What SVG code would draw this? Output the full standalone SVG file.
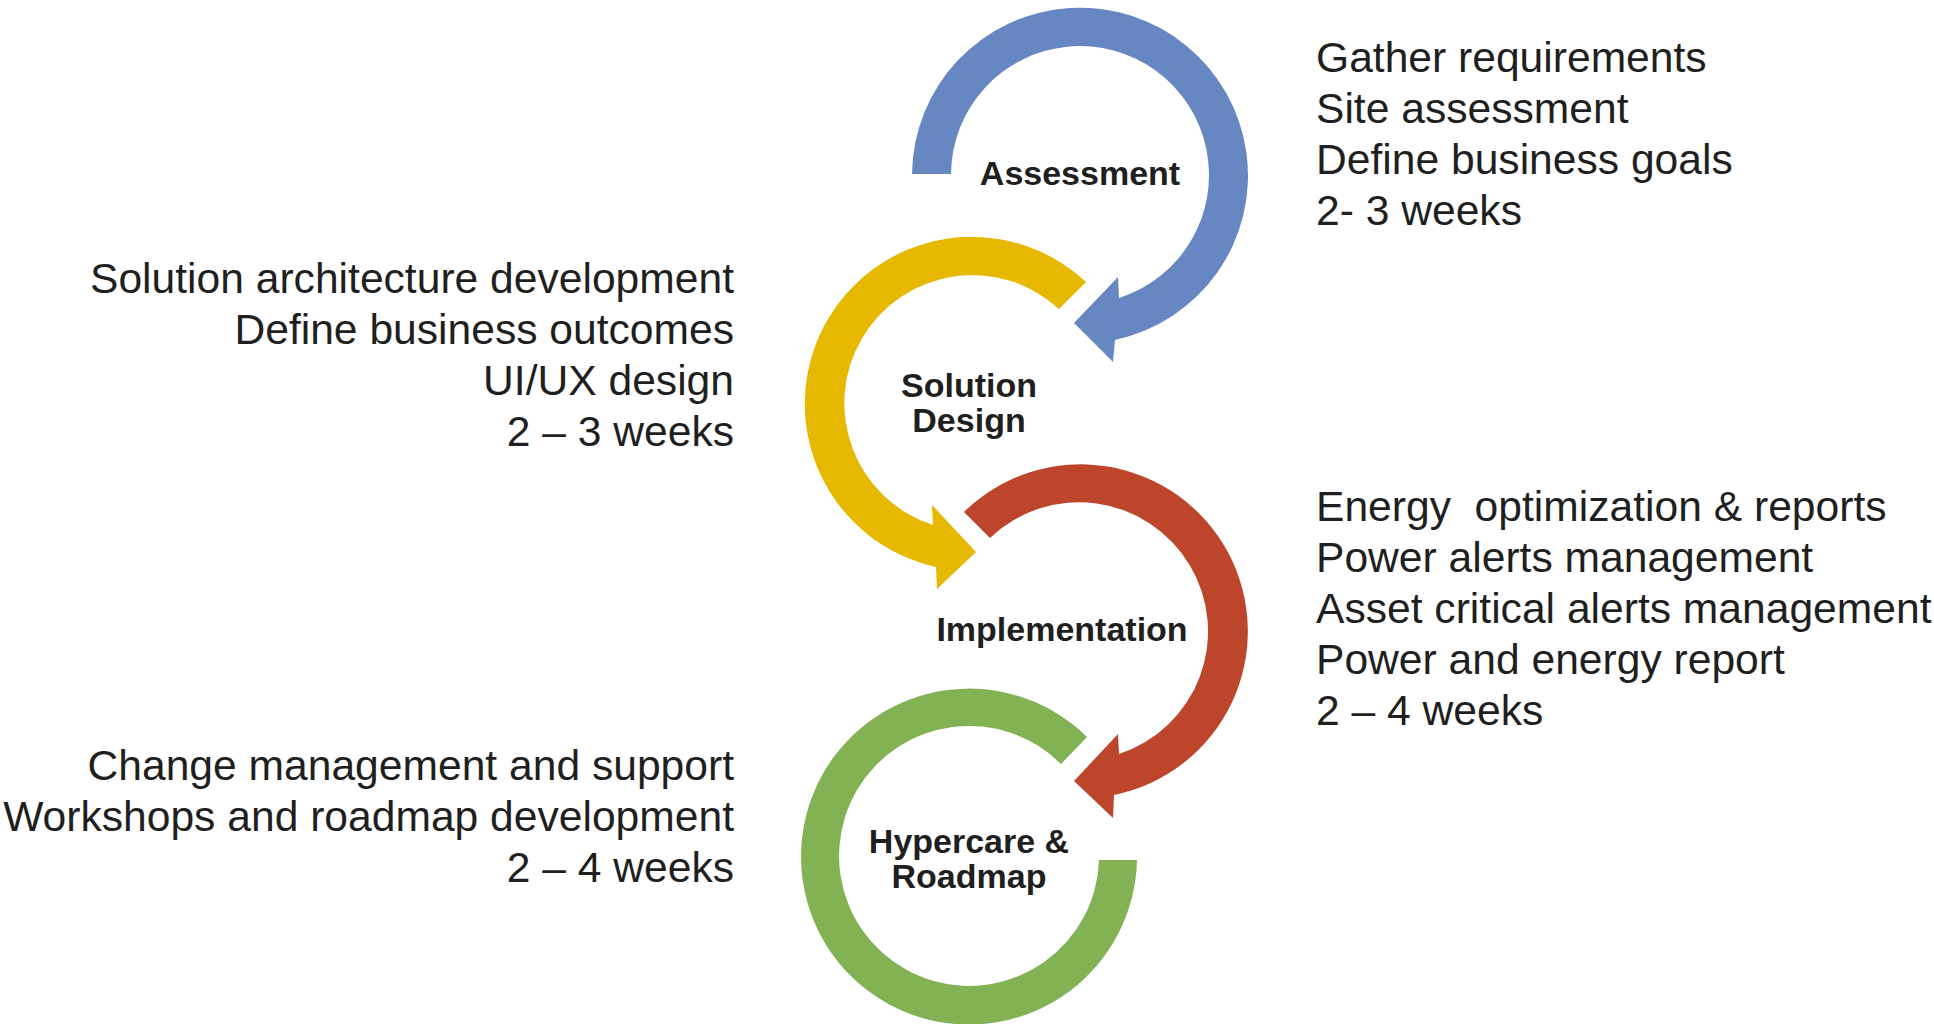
<svg xmlns="http://www.w3.org/2000/svg" width="1934" height="1024" viewBox="0 0 1934 1024">
<style>
.lbl{font-family:"Liberation Sans",Arial,sans-serif;font-weight:bold;font-size:34px;fill:#1f1f1f;text-anchor:middle}
.desc{font-family:"Liberation Sans",Arial,sans-serif;font-size:42.6px;fill:#1f1f1f}
.end{text-anchor:end}
</style>
<rect width="1934" height="1024" fill="#ffffff"/>
<g id="connectors">
<path id="arrow-assessment" fill="#6787C2" d="M912,174 A168,168 0 1 1 1115,340 L1113,362 L1074,323 L1118,277 L1119,298 A129,129 0 1 0 951,174 Z"/>
<path id="arrow-solution" fill="#E6B800" d="M1086,282 A167,167 0 1 0 936,567 L937,589 L976,552 L932,505 L933,525 A128,128 0 1 1 1059,309 Z"/>
<path id="arrow-implementation" fill="#BC452B" d="M964,512 A167,167 0 1 1 1114,795 L1113,818 L1074,781 L1118,734 L1119,754 A129,129 0 1 0 990,538 Z"/>
<path id="arrow-hypercare" fill="#83B255" d="M1087,737 A168,168 0 1 0 1137,860 L1099,860 A130,130 0 1 1 1061,764 Z"/>
</g>
<g id="node-assessment">
<text class="lbl" x="1080" y="185">Assessment</text>
<text class="desc" x="1316" y="72">Gather requirements</text>
<text class="desc" x="1316" y="123">Site assessment</text>
<text class="desc" x="1316" y="174">Define business goals</text>
<text class="desc" x="1316" y="225">2- 3 weeks</text>
</g>
<g id="node-solution-design">
<text class="lbl" x="969" y="397">Solution</text>
<text class="lbl" x="969" y="432">Design</text>
<text class="desc end" x="734" y="293">Solution architecture development</text>
<text class="desc end" x="734" y="344">Define business outcomes</text>
<text class="desc end" x="734" y="395">UI/UX design</text>
<text class="desc end" x="734" y="446">2 – 3 weeks</text>
</g>
<g id="node-implementation">
<text class="lbl" x="1062" y="641">Implementation</text>
<text class="desc" x="1316" y="521" xml:space="preserve">Energy  optimization &amp; reports</text>
<text class="desc" x="1316" y="572">Power alerts management</text>
<text class="desc" x="1316" y="623">Asset critical alerts management</text>
<text class="desc" x="1316" y="674">Power and energy report</text>
<text class="desc" x="1316" y="725">2 – 4 weeks</text>
</g>
<g id="node-hypercare">
<text class="lbl" x="969" y="853">Hypercare &amp;</text>
<text class="lbl" x="969" y="888">Roadmap</text>
<text class="desc end" x="734" y="780">Change management and support</text>
<text class="desc end" x="734" y="831">Workshops and roadmap development</text>
<text class="desc end" x="734" y="882">2 – 4 weeks</text>
</g>
</svg>
